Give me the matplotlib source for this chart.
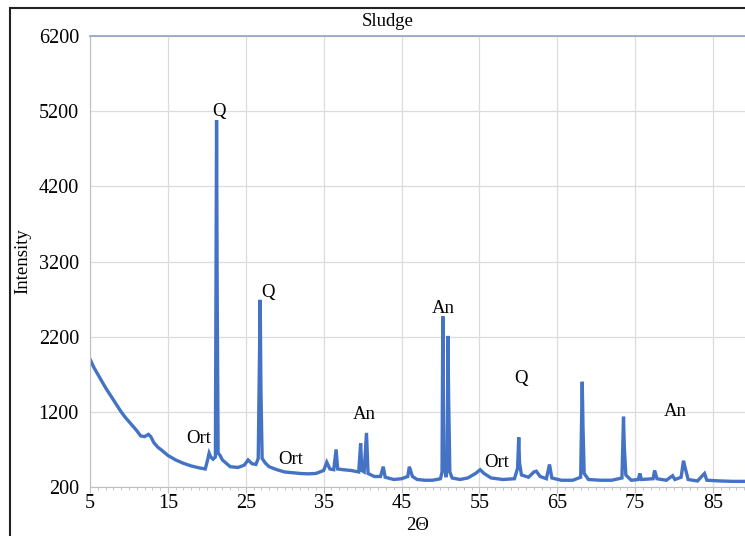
import matplotlib.pyplot as plt
from matplotlib.patches import Rectangle
from matplotlib.ticker import MultipleLocator

## XRD pattern (2-theta, intensity)
two_theta = [5.0, 5.5, 6.0, 6.5, 7.0, 7.5, 8.0, 8.5, 9.0, 9.5, 10.0, 10.5, 11.0, 11.5,
             12.0, 12.5, 12.8, 13.2, 13.7, 14.2, 15.0, 16.0, 17.0, 18.0, 19.0, 19.8,
             20.1, 20.3, 20.5, 20.8, 21.1, 21.25, 21.33, 21.45, 21.7, 22.0, 23.0, 24.0,
             24.8, 25.3, 25.8, 26.3, 26.6, 26.85, 26.95, 27.1, 27.5, 28.0, 29.0, 30.0,
             31.0, 32.0, 33.0, 34.0, 35.0, 35.4, 35.8, 36.3, 36.6, 36.8, 37.5, 38.5,
             39.5, 39.75, 39.9, 40.2, 40.5, 40.7, 41.5, 42.3, 42.65, 42.9, 44.0, 45.0,
             45.8, 46.0, 46.4, 47.0, 48.0, 49.0, 50.0, 50.2, 50.3, 50.38, 50.5, 50.7,
             50.9, 50.96, 51.05, 51.2, 51.5, 52.5, 53.5, 54.5, 55.1, 55.6, 56.5, 58.0,
             59.5, 59.9, 60.05, 60.15, 60.4, 61.3, 62.0, 62.3, 62.8, 63.6, 64.0, 64.3,
             65.5, 67.0, 68.0, 68.2, 68.3, 68.45, 69.0, 70.5, 72.0, 73.3, 73.5, 73.6,
             73.8, 74.5, 75.4, 75.6, 75.8, 77.3, 77.5, 77.8, 79.0, 79.8, 80.1, 80.9,
             81.2, 81.5, 81.8, 83.0, 83.9, 84.2, 86.0, 87.5, 89.1]
intensity = [1900, 1790, 1700, 1610, 1520, 1440, 1360, 1280, 1200, 1130, 1070, 1010, 950, 880,
             870, 900, 870, 790, 730, 690, 620, 560, 515, 480, 455, 440,
             560, 650, 600, 570, 600, 5080, 2780, 650, 620, 560, 470, 460,
             490, 560, 510, 500, 580, 2690, 1480, 580, 520, 470, 430, 400,
             390, 380, 375, 380, 420, 530, 440, 430, 700, 440, 430, 420,
             400, 780, 420, 400, 920, 380, 340, 340, 470, 330, 300, 310,
             340, 470, 340, 300, 290, 290, 310, 400, 2470, 1450, 500, 330,
             500, 2210, 1360, 400, 320, 300, 320, 380, 430, 380, 320, 300,
             310, 450, 860, 520, 360, 330, 400, 410, 340, 310, 500, 320,
             290, 290, 330, 1600, 1000, 380, 300, 290, 290, 320, 1135, 740,
             360, 290, 300, 380, 300, 310, 420, 310, 290, 350, 300, 330,
             550, 420, 300, 280, 380, 290, 280, 275, 275]

## phase labels
label_text = ["Q", "Q", "Ort", "Ort", "An", "An", "Q", "Ort", "An"]
label_x = [21.55, 27.85, 18.9, 30.8, 40.2, 50.4, 60.3, 57.2, 80.1]
label_y = [5200, 2790, 850, 570, 1170, 2580, 1650, 530, 1200]

x_ticks = [5, 15, 25, 35, 45, 55, 65, 75, 85]
y_ticks = [200, 1200, 2200, 3200, 4200, 5200, 6200]

serif = "Liberation Serif"
blue = "#4472C4"

fig = plt.figure(figsize=(7.45, 5.36), dpi=100)
ax = fig.add_axes([90 / 745, 1 - 487 / 536, 1 - 90 / 745, (487 - 36) / 536])

ax.plot(two_theta, intensity, color=blue, lw=2.4, solid_joinstyle="miter")

for t, x, y in zip(label_text, label_x, label_y):
    ax.text(x, y, t, ha="center", va="center", fontsize=13.5, family=serif)

ax.set_xlim(5, 89.1)
ax.set_ylim(200, 6200)
ax.set_xticks(x_ticks)
ax.set_yticks(y_ticks)
ax.xaxis.set_minor_locator(MultipleLocator(1))
ax.tick_params(axis="y", length=0, pad=8, labelsize=14.5)
ax.tick_params(axis="x", which="major", length=4, color="#BFBFBF", labelsize=14.5, pad=1)
ax.tick_params(axis="x", which="minor", length=2, color="#BFBFBF")
for lab in ax.get_xticklabels() + ax.get_yticklabels():
    lab.set_family(serif)

ax.grid(True, color="#DCDCDC", lw=0.9)
ax.set_axisbelow(True)
ax.spines["right"].set_visible(False)
ax.spines["left"].set_color("#BFBFBF")
ax.spines["bottom"].set_color("#BFBFBF")
ax.spines["top"].set_color("#8FA3BF")
ax.spines["top"].set_linestyle((0, (1, 1)))
ax.spines["top"].set_linewidth(1.2)

ax.set_xlabel("2Θ", fontsize=13.5, family=serif, labelpad=3)
ax.set_ylabel("Intensity", fontsize=13.5, family=serif, labelpad=5)

fig.text(388 / 745, 1 - 22 / 536, "Sludge", ha="center", va="center", fontsize=13.5, family=serif)
fig.patches.append(Rectangle((10 / 745, -0.1), 1.2, 1 - 8 / 536 + 0.1, transform=fig.transFigure,
                             fill=False, edgecolor="#222222", lw=1.5))

fig.savefig("out.png", dpi=100)
